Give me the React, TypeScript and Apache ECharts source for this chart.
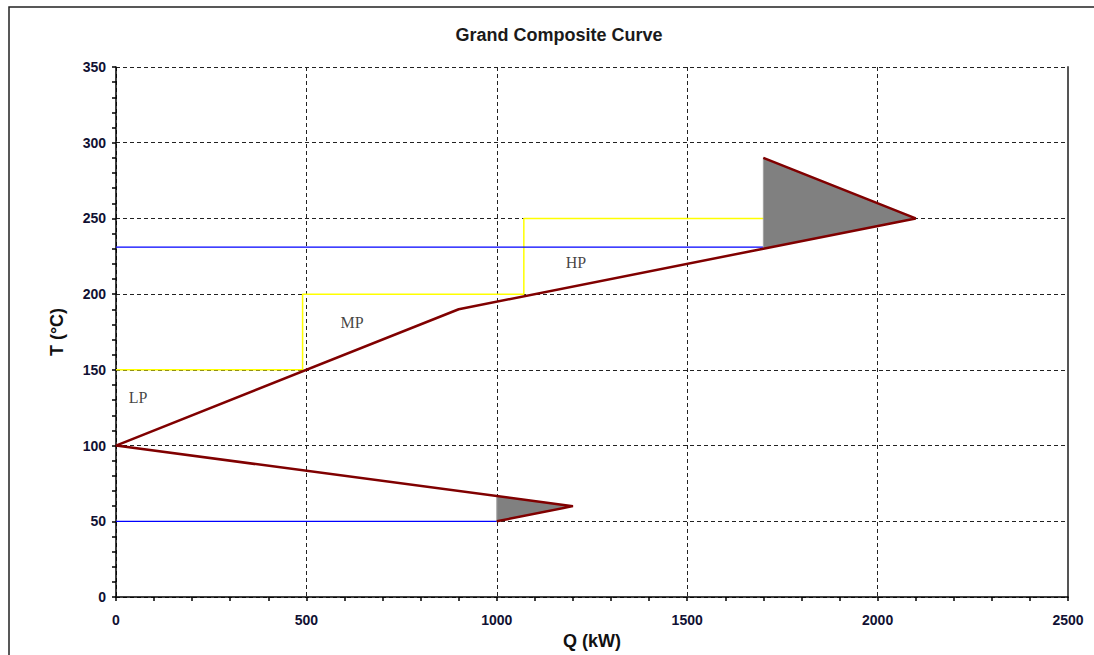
import React, { useEffect, useRef } from "react";
import * as echarts from "echarts";

// Grand composite curve (Q in kW, T in °C)
const gccQ = [1700, 2100, 1700, 900, 0, 1200, 1000];
const gccT = [290, 250, 230, 190, 100, 60, 50];

// Steam levels (LP / MP / HP) yellow step line
const steamQ = [0, 490, 490, 1071, 1071, 1700];
const steamT = [150, 150, 200, 200, 250, 250];

// Blue utility lines
const hotUtilQ = [0, 1700];
const hotUtilT = [231, 231];
const coldUtilQ = [0, 1000];
const coldUtilT = [50, 50];

// Grey pockets (triangles)
const pocketUpperQ = [1700, 2100, 1700];
const pocketUpperT = [290, 250, 230];
const pocketLowerQ = [1000, 1200, 1000];
const pocketLowerT = [66.7, 60, 50];

// Text labels
const levelNames = ["LP", "MP", "HP"];
const levelQ = [58, 620, 1208];
const levelT = [132, 181, 221];

const xTicks = { min: 0, max: 2500, interval: 500 };
const yTicks = { min: 0, max: 350, interval: 50 };

const zip = (a: number[], b: number[]) => a.map((v, i) => [v, b[i]]);
const tri = (q: number[], t: number[]) => [q[0], t[0], q[1], t[1], q[2], t[2]];

export default function App() {
  const ref = useRef<HTMLDivElement>(null);
  useEffect(() => {
    if (!ref.current) return;
    const chart = echarts.init(ref.current, null, { renderer: "svg" });
    const axisFont = "Arial, 'Liberation Sans', sans-serif";
    chart.setOption({
      animation: false,
      backgroundColor: "#ffffff",
      title: {
        text: "Grand Composite Curve",
        left: 554,
        top: 21,
        textAlign: "center",
        textStyle: { fontFamily: axisFont, fontWeight: "bold", fontSize: 18, color: "#1a1a1a" },
      },
      graphic: [
        {
          type: "rect",
          shape: { x: 9, y: 7, width: 1200, height: 800 },
          style: { fill: "none", stroke: "#222", lineWidth: 1.5 },
          silent: true,
        },
      ],
      grid: { left: 116, top: 67, right: 26, bottom: 58, containLabel: false },
      xAxis: {
        type: "value",
        min: xTicks.min,
        max: xTicks.max,
        interval: xTicks.interval,
        name: "Q (kW)",
        nameLocation: "middle",
        nameGap: 32,
        nameTextStyle: { fontFamily: axisFont, fontWeight: "bold", fontSize: 18, color: "#111" },
        axisLine: { show: true, onZero: false, lineStyle: { color: "#000", width: 1.5 } },
        axisTick: { show: true, inside: false, length: 4, lineStyle: { color: "#000", width: 1.5 } },
        minorTick: { show: true, splitNumber: 5, length: 4, lineStyle: { color: "#000", width: 1.5 } },
        axisLabel: {
          fontFamily: axisFont,
          fontWeight: "bold",
          fontSize: 14,
          color: "#111133",
          margin: 16,
          formatter: (v: number) => String(v),
        },
        splitLine: { show: true, lineStyle: { color: "#222", width: 1, type: [4, 3] } },
      },
      yAxis: [
        {
          type: "value",
          min: yTicks.min,
          max: yTicks.max,
          interval: yTicks.interval,
          name: "T (°C)",
          nameLocation: "middle",
          nameGap: 50,
          nameTextStyle: { fontFamily: axisFont, fontWeight: "bold", fontSize: 18, color: "#111" },
          axisLine: { show: true, onZero: false, lineStyle: { color: "#000", width: 1.5 } },
          axisTick: { show: true, inside: false, length: 4, lineStyle: { color: "#000", width: 1.5 } },
          minorTick: { show: true, splitNumber: 5, length: 4, lineStyle: { color: "#000", width: 1.5 } },
          axisLabel: {
            fontFamily: axisFont,
            fontWeight: "bold",
            fontSize: 14,
            color: "#111133",
            margin: 10,
            formatter: (v: number) => String(v),
          },
          splitLine: { show: true, lineStyle: { color: "#222", width: 1, type: [4, 3] } },
        },
        {
          type: "value",
          position: "right",
          min: yTicks.min,
          max: yTicks.max,
          interval: yTicks.interval,
          axisLine: { show: true, onZero: false, lineStyle: { color: "#555", width: 2 } },
          axisTick: { show: false },
          axisLabel: { show: false },
          splitLine: { show: false },
        },
      ],
      series: [
        {
          type: "line",
          data: zip(steamQ, steamT),
          showSymbol: false,
          lineStyle: { color: "#ffff00", width: 1.5 },
          z: 2,
          silent: true,
        },
        {
          type: "line",
          data: zip(hotUtilQ, hotUtilT),
          showSymbol: false,
          lineStyle: { color: "#0000ff", width: 1.2 },
          z: 2,
          silent: true,
        },
        {
          type: "line",
          data: zip(coldUtilQ, coldUtilT),
          showSymbol: false,
          lineStyle: { color: "#0000ff", width: 1.2 },
          z: 2,
          silent: true,
        },
        {
          type: "custom",
          data: [tri(pocketUpperQ, pocketUpperT), tri(pocketLowerQ, pocketLowerT)],
          encode: { x: [0, 2, 4], y: [1, 3, 5] },
          renderItem: (_params: any, api: any) => {
            const pts = [0, 1, 2].map((k) =>
              api.coord([api.value(2 * k), api.value(2 * k + 1)])
            );
            return {
              type: "polygon",
              shape: { points: pts },
              style: { fill: "#808080", stroke: "#a0a0a0", lineWidth: 1 },
            };
          },
          z: 3,
          silent: true,
        },
        {
          type: "line",
          data: zip(gccQ, gccT),
          showSymbol: false,
          lineStyle: { color: "#800000", width: 2.5 },
          z: 4,
          silent: true,
        },
        {
          type: "scatter",
          symbolSize: 0,
          data: levelNames.map((n, i) => ({ name: n, value: [levelQ[i], levelT[i]] })),
          label: {
            show: true,
            position: "inside",
            formatter: (p: any) => p.name,
            fontFamily: "'Times New Roman', 'Liberation Serif', serif",
            fontSize: 16,
            color: "#111",
          },
          z: 5,
          silent: true,
        },
      ],
    });
    return () => chart.dispose();
  }, []);
  return (
    <div
      ref={ref}
      style={{ position: "absolute", left: 0, top: 0, width: 1094, height: 655 }}
    />
  );
}
